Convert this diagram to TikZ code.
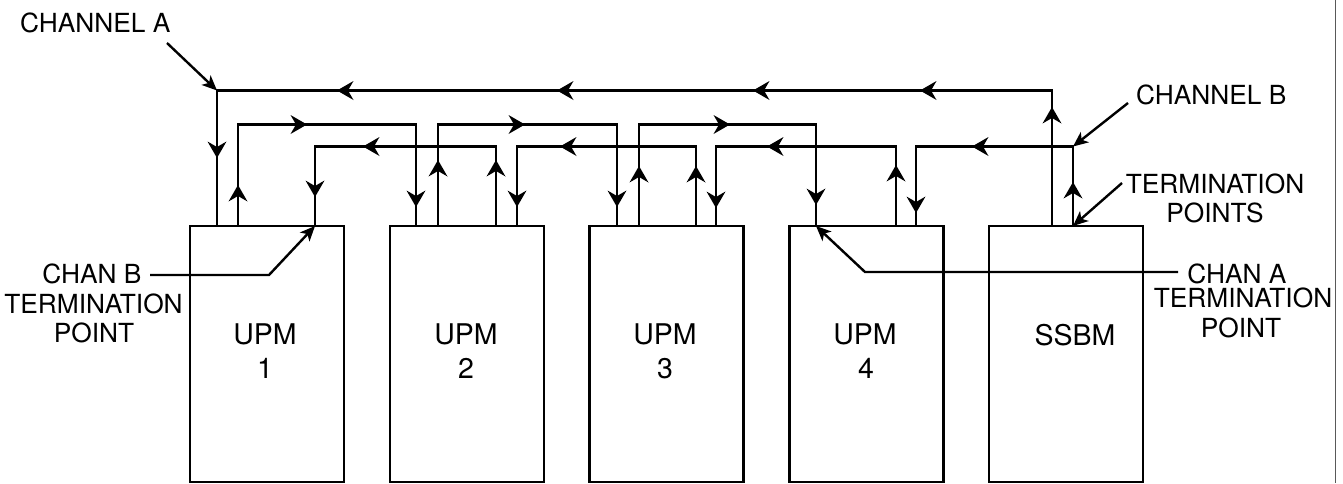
\documentclass[tikz,border=0pt]{standalone}
\usepackage{fontspec}
\setmainfont{TeX Gyre Heros}
\usetikzlibrary{arrows.meta,decorations.markings}
\begin{document}
\begin{tikzpicture}[x=1pt,y=-1pt,
  wire/.style={line width=2.8pt, line join=miter},
  box/.style={draw, line width=2.8pt, minimum width=154pt, minimum height=256pt, inner sep=0pt},
  lbl/.style={font=\fontsize{26.3}{28}\selectfont, inner sep=0pt, anchor=base},
  big/.style={font=\fontsize{28.5}{32}\selectfont, inner sep=0pt, anchor=base},
  ptr/.style={line width=2.4pt, line join=miter, -{Stealth[length=15pt,width=13pt,inset=4pt]}},
  ah/.style={postaction={decorate, decoration={markings,
     mark=at position #1 with {\fill[black] (0pt,0pt) -- (-16.5pt,9.5pt) -- (-11pt,0pt) -- (-16.5pt,-9.5pt) -- cycle;}}}}
]
\fill[white] (0,0) rectangle (1343,483);
\useasboundingbox (0,0) rectangle (1343,483);
% right page edge
\draw[black!65, line width=1.4pt] (1335.5,0) -- (1335.5,483);

% boxes
\node[box] (u1) at (267,354) {};
\node[box] (u2) at (467,354) {};
\node[box] (u3) at (666.5,354) {};
\node[box] (u4) at (866.5,354) {};
\node[box] (ss) at (1066,354) {};

\node[big] (u1a) at (265,344) {UPM};
\node[big] (u1b) at (265,378) {1};
\node[big] (u2a) at (466,344) {UPM};
\node[big] (u2b) at (466,378) {2};
\node[big] (u3a) at (665,344) {UPM};
\node[big] (u3b) at (665,378) {3};
\node[big] (u4a) at (865,344) {UPM};
\node[big] (u4b) at (866,378) {4};
\node[big] (ssa) at (1075,345) {SSBM};

% connection points on box tops
\coordinate (p1a) at (217,226);
\coordinate (p1b) at (238,226);
\coordinate (p1c) at (315,226);
\coordinate (p2a) at (416,226);
\coordinate (p2b) at (438,226);
\coordinate (p2c) at (496,226);
\coordinate (p2d) at (517,226);
\coordinate (p3a) at (617,226);
\coordinate (p3b) at (639,226);
\coordinate (p3c) at (696,226);
\coordinate (p3d) at (716,226);
\coordinate (p4a) at (816,226);
\coordinate (p4c) at (896,226);
\coordinate (p4d) at (916,226);
\coordinate (psa) at (1052,226);
\coordinate (psb) at (1073,226);
% junctions
\coordinate (ja) at (217,90.5);
\coordinate (jb) at (1073,146.5);

% Channel A main line
\draw[wire, ah=119pt, ah=267.5pt, ah=434.5pt, ah=630.5pt, ah=850.5pt, ah=1038pt]
  (psa) -- (1052,90.5) -- (ja) -- (p1a);
% Channel A chain (upper)
\draw[wire, ah=41pt, ah=170.5pt, ah=362pt]
  (p1b) -- (238,124.5) -- (416,124.5) -- (p2a);
\draw[wire, ah=66pt, ah=188.5pt, ah=363pt]
  (p2b) -- (438,124.5) -- (617,124.5) -- (p3a);
\draw[wire, ah=60pt, ah=192.5pt, ah=359pt]
  (p3b) -- (639,124.5) -- (816,124.5) -- (p4a);
% Channel B chain (lower)
\draw[wire, ah=44pt, ah=180.5pt, ah=303pt]
  (psb) -- (jb) -- (916,146.5) -- (p4d);
\draw[wire, ah=61pt, ah=208.5pt, ah=321pt]
  (p4c) -- (896,146.5) -- (716,146.5) -- (p3d);
\draw[wire, ah=60pt, ah=215.5pt, ah=319pt]
  (p3c) -- (696,146.5) -- (517,146.5) -- (p2d);
\draw[wire, ah=66pt, ah=212.5pt, ah=311pt]
  (p2c) -- (496,146.5) -- (315,146.5) -- (p1c);

% labels and pointers
\node[lbl, anchor=base west] (cha) at (20,32) {CHANNEL A};
\coordinate (chap) at (167,43);
\draw[ptr] (chap) -- (ja);

\node[lbl, anchor=base west] (chb) at (1136,104) {CHANNEL B};
\coordinate (chbp) at (1128,103);
\draw[ptr] (chbp) -- (jb);

\node[lbl] (tp1) at (1215,193) {TERMINATION};
\node[lbl] (tp2) at (1215,222) {POINTS};
\coordinate (tpp) at (1122,183);
\draw[ptr] (tpp) -- (psb);

\node[lbl] (ca1) at (1237,283) {CHAN A};
\node[lbl] (ca2) at (1243,307) {TERMINATION};
\node[lbl] (ca3) at (1241,337) {POINT};
\coordinate (cap) at (1178,272);
\draw[ptr] (cap) -- (865,272) -- (p4a);

\node[lbl] (cb1) at (92,283) {CHAN B};
\node[lbl] (cb2) at (93.5,313) {TERMINATION};
\node[lbl] (cb3) at (94,342) {POINT};
\coordinate (cbp) at (150,275);
\draw[ptr] (cbp) -- (269,275) -- (p1c);
\end{tikzpicture}
\end{document}
